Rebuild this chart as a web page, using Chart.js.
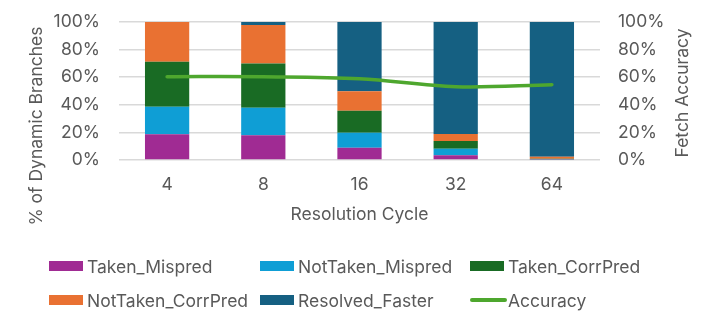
<!DOCTYPE html>
<html>
<head>
<meta charset="utf-8">
<script src="https://cdn.jsdelivr.net/npm/chart.js@4.4.0/dist/chart.umd.min.js"></script>
<style>
  body { margin: 0; background: #fff; }
  #wrap { position: relative; width: 718px; height: 327px; }
  #legend { position: absolute; left: 0; top: 0; width: 718px; height: 327px; font-family: Inter, sans-serif; font-size: 17.5px; color: #595959; pointer-events: none; }
  .item { position: absolute; display: flex; align-items: center; white-space: nowrap; height: 24px; }
  .box { width: 34px; height: 10px; margin-right: 4px; }
  .ln { width: 37px; height: 3.5px; margin-right: 1px; border-radius: 2px; }
</style>
</head>
<body>
<div id="wrap">
  <canvas id="chart" width="718" height="327"></canvas>
  <div id="legend"></div>
</div>
<script>
//DATA
var cycles = ["4", "8", "16", "32", "64"];
var takenMispred = [18.6, 17.9, 8.9, 3.4, 0.3];
var notTakenMispred = [20.0, 20.0, 10.9, 4.8, 0.3];
var takenCorrPred = [32.6, 32.1, 15.9, 5.6, 0.3];
var notTakenCorrPred = [28.8, 27.8, 14.1, 5.0, 1.5];
var resolvedFaster = [0, 2.2, 50.2, 81.2, 97.6];
var accuracy = [60.4, 60.3, 58.9, 53.1, 54.6];

var textColor = "#595959";
var gridColor = "#d9d9d9";
var fontSize = 17.5;
Chart.defaults.font.family = "Inter, sans-serif";
Chart.defaults.font.size = fontSize;
Chart.defaults.color = textColor;

function bar(label, data, color) {
  return { type: "bar", label: label, data: data, backgroundColor: color, yAxisID: "y", order: 1,
           barPercentage: 0.46, categoryPercentage: 1 };
}

// vertical axis titles, both reading bottom to top
var axisTitles = {
  id: "axisTitles",
  afterDraw: function(c) {
    var ctx = c.ctx;
    [["% of Dynamic Branches", 37, 126], ["Fetch Accuracy", 683, 93]].forEach(function(t) {
      ctx.save();
      ctx.fillStyle = textColor;
      ctx.font = fontSize + "px Inter, sans-serif";
      ctx.textAlign = "center";
      ctx.textBaseline = "middle";
      ctx.translate(t[1], t[2]);
      ctx.rotate(-Math.PI / 2);
      ctx.fillText(t[0], 0, 0);
      ctx.restore();
    });
  }
};

var chart = new Chart("chart", {
  data: {
    labels: cycles,
    datasets: [
      bar("Taken_Mispred", takenMispred, "#a02b93"),
      bar("NotTaken_Mispred", notTakenMispred, "#0f9ed5"),
      bar("Taken_CorrPred", takenCorrPred, "#196b24"),
      bar("NotTaken_CorrPred", notTakenCorrPred, "#e97132"),
      bar("Resolved_Faster", resolvedFaster, "#156082"),
      { type: "line", label: "Accuracy", data: accuracy, yAxisID: "y1", order: 0,
        borderColor: "#4ea72e", backgroundColor: "#4ea72e", borderWidth: 3.5,
        pointRadius: 0, tension: 0.35, borderCapStyle: "round" }
    ]
  },
  plugins: [axisTitles],
  options: {
    responsive: false,
    animation: false,
    layout: { padding: { top: 22, left: 0, right: 0, bottom: 0 } },
    plugins: { legend: { display: false }, tooltip: { enabled: false } },
    scales: {
      x: {
        stacked: true,
        grid: { display: false, drawTicks: false },
        border: { display: false },
        ticks: { padding: 14 },
        title: { display: true, text: "Resolution Cycle", padding: { top: 4, bottom: 101.5 } },
        afterFit: function(s) { s.height = 167; }
      },
      y: {
        stacked: true, min: 0, max: 100,
        position: "left",
        grid: { color: gridColor, lineWidth: 1.5, drawTicks: true, tickLength: 19, tickColor: "rgba(0,0,0,0)" },
        border: { display: false },
        ticks: { stepSize: 20, padding: 0, callback: function(v) { return v + "%"; } },
        afterFit: function(s) { s.width = 119; }
      },
      y1: {
        min: 0, max: 100,
        position: "right",
        grid: { display: true, drawOnChartArea: false, drawTicks: true, tickLength: 18, tickColor: "rgba(0,0,0,0)" },
        border: { display: false },
        ticks: { stepSize: 20, padding: 0, callback: function(v) { return v + "%"; } },
        afterFit: function(s) { s.width = 118; }
      }
    }
  }
});

// legend in three columns, built from the chart's datasets
var cols = [49, 260, 470];
var rows = [254, 288];
var legend = document.getElementById("legend");
chart.data.datasets.forEach(function(ds, i) {
  var item = document.createElement("div");
  item.className = "item";
  item.style.left = cols[i % 3] + "px";
  item.style.top = rows[Math.floor(i / 3)] + "px";
  var sw = document.createElement("span");
  sw.className = ds.type === "line" ? "ln" : "box";
  sw.style.background = ds.type === "line" ? ds.borderColor : ds.backgroundColor;
  item.appendChild(sw);
  item.appendChild(document.createTextNode(ds.label));
  legend.appendChild(item);
});
</script>
</body>
</html>
